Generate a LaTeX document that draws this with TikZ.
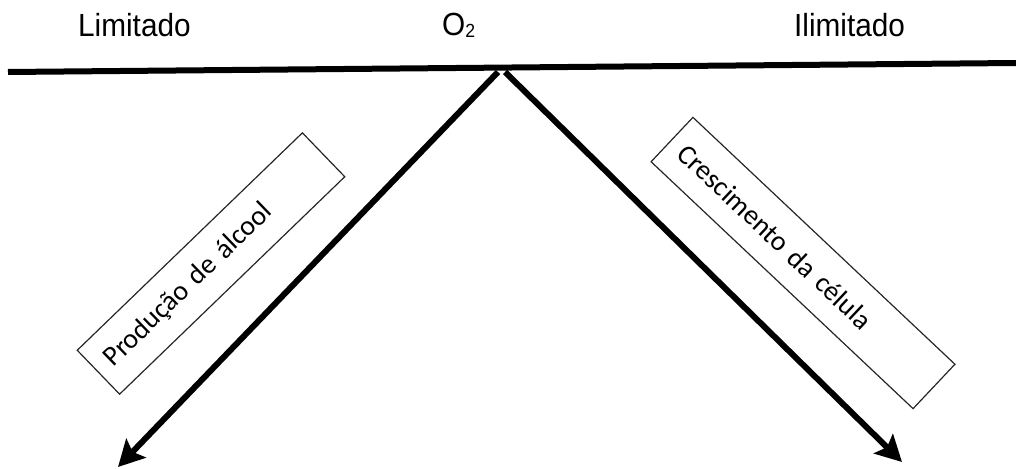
\documentclass[tikz,border=0pt]{standalone}
\usepackage{fontspec}
\setmainfont{Liberation Sans}
\newfontfamily\boxfont{Carlito}
\usetikzlibrary{arrows.meta}
\begin{document}
\begin{tikzpicture}[x=1pt,y=-1pt,
  heading/.style={font=\fontsize{32}{36}\selectfont, anchor=base west,
    inner sep=0pt, xscale=0.93},
  labelbox/.style={draw=black!85, line width=1.2pt, minimum height=61pt,
    inner xsep=14pt, align=left, font=\boxfont\fontsize{28}{32}\selectfont},
  scale line/.style={line width=6pt},
  flow/.style={line width=6pt, -{Stealth[length=26pt,width=27pt,inset=5pt]}}]
\useasboundingbox (0,0) rectangle (1016,468);

% headings above the oxygen scale
\node[heading] (lim)  at (78,37)  {Limitado};
\node[heading] (o2)   at (442,36) {O\raisebox{-1.5pt}{\fontsize{19}{19}\selectfont 2}};
\node[heading] (ilim) at (794,37) {Ilimitado};

% oxygen scale
\coordinate (scaleL) at (8,72);
\coordinate (scaleR) at (1016,63);
\draw[scale line] (scaleL) -- (scaleR);

% diverging responses
\coordinate (apexL) at (498,72);
\coordinate (apexR) at (505,72);
\coordinate (tipL)  at (118,467);
\coordinate (tipR)  at (902,462);
\draw[flow] (apexL) -- (tipL);
\draw[flow] (apexR) -- (tipR);

% labels along the arrows
\node[labelbox, text width=285pt, rotate=44]    (alcool) at (211,263.5) {Produção de álcool};
\node[labelbox, text width=332pt, rotate=-43.3] (celula) at (803,263)   {Crescimento da célula};
\end{tikzpicture}
\end{document}
